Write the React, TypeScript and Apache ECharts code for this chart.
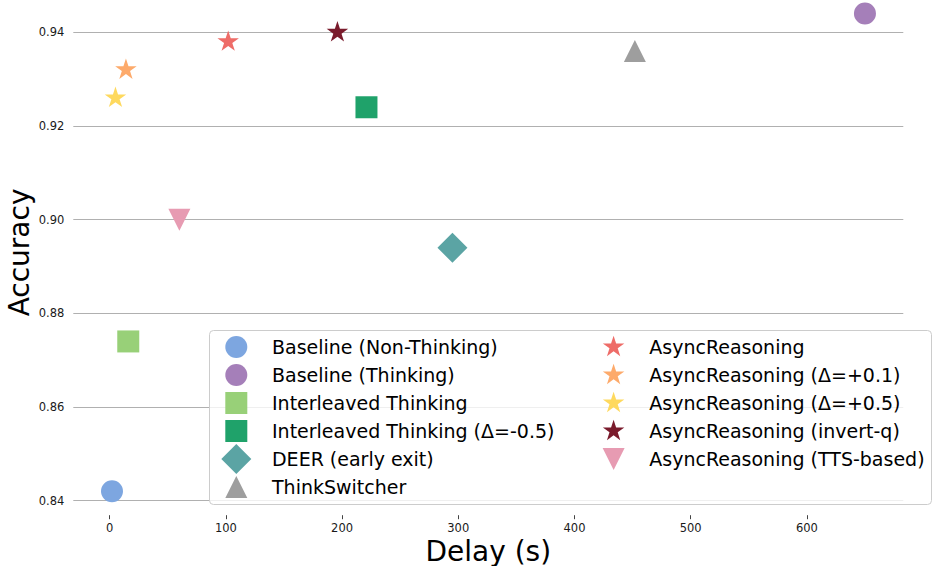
import React, { useEffect, useRef } from 'react';
import * as echarts from 'echarts';

// ---- data ----
const seriesNames = [
  'Baseline (Non-Thinking)',
  'Baseline (Thinking)',
  'Interleaved Thinking',
  'Interleaved Thinking (Δ=-0.5)',
  'DEER (early exit)',
  'ThinkSwitcher',
  'AsyncReasoning',
  'AsyncReasoning (Δ=+0.1)',
  'AsyncReasoning (Δ=+0.5)',
  'AsyncReasoning (invert-q)',
  'AsyncReasoning (TTS-based)',
];
const delays = [2, 650, 16, 221, 295, 452, 102, 14, 5, 196, 60];
const accuracies = [0.842, 0.944, 0.874, 0.924, 0.894, 0.936, 0.938, 0.932, 0.926, 0.94, 0.9];
const markerKinds = [
  'circle', 'circle', 'square', 'square', 'diamond', 'triangleUp',
  'star', 'star', 'star', 'star', 'triangleDown',
];
const colors = [
  '#7DA6E0', '#A57FB9', '#98D078', '#1FA26A', '#5BA4A4', '#9E9E9E',
  '#EE6C68', '#FDAA6B', '#FED95E', '#7A1B2C', '#E79BB2',
];
const xTicks = [0, 100, 200, 300, 400, 500, 600];
const yTicks = [0.84, 0.86, 0.88, 0.9, 0.92, 0.94];
const legendCol1 = seriesNames.slice(0, 6);
const legendCol2 = seriesNames.slice(6);

const FONT = 'DejaVu Sans';
const PAD = 'M-15 -15 M15 15 ';

function shapePath(kind: string): string {
  switch (kind) {
    case 'circle':
      return PAD + 'M11 0 A11 11 0 1 1 -11 0 A11 11 0 1 1 11 0 Z';
    case 'square':
      return PAD + 'M-11 -11 L11 -11 L11 11 L-11 11 Z';
    case 'diamond':
      return PAD + 'M0 -15 L15 0 L0 15 L-15 0 Z';
    case 'triangleUp':
      return PAD + 'M0 -11 L11 11 L-11 11 Z';
    case 'triangleDown':
      return PAD + 'M0 11 L11 -11 L-11 -11 Z';
    case 'star': {
      const R = 11.3;
      const r = R * 0.381966;
      const pts: string[] = [];
      for (let k = 0; k < 10; k++) {
        const ang = ((-90 + 36 * k) * Math.PI) / 180;
        const rad = k % 2 === 0 ? R : r;
        pts.push(`${(rad * Math.cos(ang)).toFixed(3)} ${(rad * Math.sin(ang)).toFixed(3)}`);
      }
      return PAD + 'M' + pts.join(' L') + ' Z';
    }
  }
  return PAD;
}

const symbolOf = (i: number) => 'path://' + shapePath(markerKinds[i]);

export default function App() {
  const ref = useRef<HTMLDivElement>(null);
  useEffect(() => {
    document.body.style.margin = '0';
    const chart = echarts.init(ref.current!, null, { renderer: 'svg' });

    const legendBase = {
      orient: 'vertical' as const,
      top: 332,
      padding: 0,
      itemWidth: 61.4,
      itemHeight: 30,
      itemGap: -2,
      selectedMode: false,
      symbolKeepAspect: true,
      textStyle: { fontFamily: FONT, fontSize: 19, color: '#000' },
      z: 4,
    };

    chart.setOption({
      animation: false,
      backgroundColor: '#ffffff',
      grid: {
        left: 73.3,
        right: 29.7,
        top: -10.3,
        bottom: 50.8,
        containLabel: false,
        outerBoundsMode: 'none',
      },
      xAxis: {
        type: 'value',
        min: -31.3,
        max: 683,
        axisLine: { show: false },
        axisTick: { show: true, length: 4, customValues: xTicks, lineStyle: { color: '#444', width: 1 } },
        axisLabel: {
          customValues: xTicks,
          formatter: (v: number) => String(Math.round(v)),
          margin: 7,
          fontFamily: FONT,
          fontSize: 11.5,
          color: '#1a1a1a',
        },
        splitLine: { show: false },
        name: 'Delay (s)',
        nameLocation: 'middle',
        nameGap: 22,
        nameMoveOverlap: false,
        nameTextStyle: { fontFamily: FONT, fontSize: 28, color: '#000' },
      },
      yAxis: {
        type: 'value',
        min: 0.8369,
        max: 0.9491,
        axisLine: { show: false },
        axisTick: { show: true, length: 4, customValues: yTicks, lineStyle: { color: '#444', width: 1 } },
        axisLabel: {
          customValues: yTicks,
          formatter: (v: number) => v.toFixed(2),
          margin: 9,
          fontFamily: FONT,
          fontSize: 11.5,
          color: '#1a1a1a',
        },
        splitLine: { show: false },
        name: 'Accuracy',
        nameLocation: 'middle',
        nameGap: 40,
        nameMoveOverlap: false,
        nameTextStyle: { fontFamily: FONT, fontSize: 28, color: '#000' },
      },
      legend: [
        {
          ...legendBase,
          left: 221.3,
          data: legendCol1.map((name) => ({ name, icon: symbolOf(seriesNames.indexOf(name)) })),
        },
        {
          ...legendBase,
          left: 598.6,
          data: legendCol2.map((name) => ({ name, icon: symbolOf(seriesNames.indexOf(name)) })),
        },
      ],
      graphic: [
        {
          type: 'rect',
          z: 3,
          silent: true,
          shape: { x: 209.5, y: 330.5, width: 722, height: 174, r: 4 },
          style: { fill: 'rgba(255,255,255,0.8)', stroke: '#cccccc', lineWidth: 1 },
        },
      ],
      series: seriesNames.map((name, i) => ({
        type: 'scatter',
        name,
        data: [[delays[i], accuracies[i]]],
        symbol: symbolOf(i),
        symbolSize: 30,
        symbolKeepAspect: true,
        itemStyle: { color: colors[i], opacity: 1 },
        clip: false,
        silent: true,
        z: 2,
        emphasis: { disabled: true },
        ...(i === 0
          ? {
              markLine: {
                silent: true,
                z: 1,
                symbol: ['none', 'none'],
                label: { show: false },
                emphasis: { disabled: true },
                lineStyle: { color: '#b0b0b0', width: 1, type: 'solid' },
                data: yTicks.map((v) => ({ yAxis: v })),
              },
            }
          : {}),
      })),
    });
    return () => chart.dispose();
  }, []);
  return <div ref={ref} style={{ position: 'absolute', left: 0, top: 0, width: 933, height: 566 }} />;
}
